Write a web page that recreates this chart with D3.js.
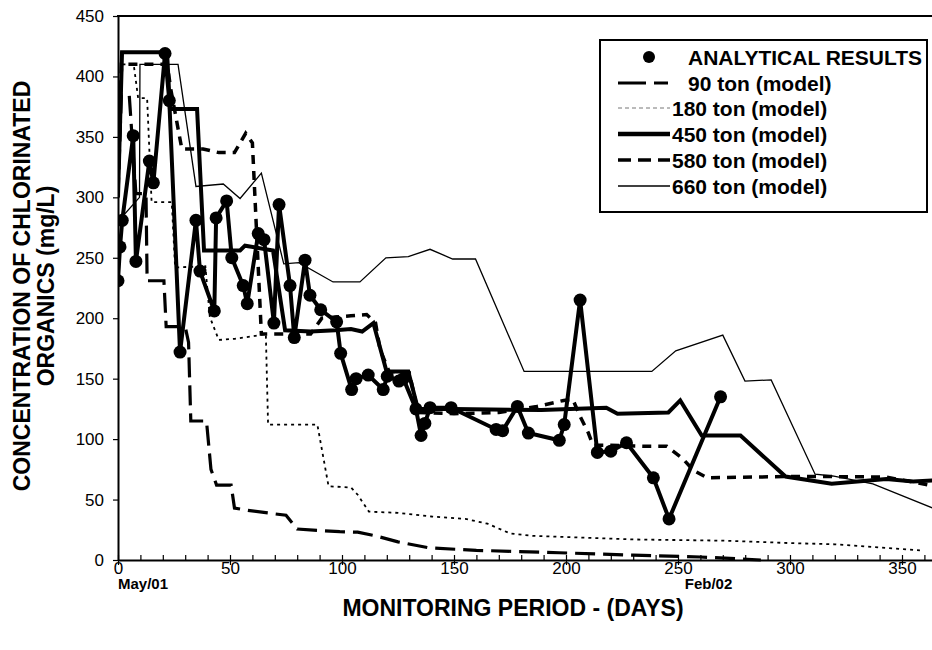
<!DOCTYPE html>
<html>
<head>
<meta charset="utf-8">
<script src="https://cdn.jsdelivr.net/npm/d3@7"></script>
<style>
  body { margin: 0; background: #fff; }
  text { font-family: "Liberation Sans", Arial, sans-serif; fill: #000; }
</style>
</head>
<body>
<script>
// data: [day, mg/L]
var analytical = [[0, 231], [0.9, 259], [1.9, 281], [6.8, 351], [8, 247], [14, 330], [15.8, 312],
  [21, 419], [22.9, 380], [27.7, 172], [34.8, 281], [36.6, 239], [43, 206], [43.8, 283],
  [48.5, 297], [50.8, 250], [55.9, 227], [57.7, 212], [62.6, 270], [65.2, 265], [69.6, 196],
  [71.9, 294], [76.8, 227], [78.7, 184], [83.5, 248], [85.7, 219], [90.5, 207], [97.6, 197],
  [99.4, 171], [104.3, 141], [106.3, 150], [111.7, 153], [118.4, 141], [120.2, 152],
  [125.4, 148], [127.4, 150], [133, 125], [135.3, 103], [137, 113], [139.3, 126], [148.7, 126],
  [168.8, 108], [171.7, 107], [178.3, 127], [183.2, 105], [197, 99], [199.2, 112], [206.3, 215],
  [214, 89], [220, 90], [227, 97], [239, 68], [246, 34], [269, 135]];

var ton90 = [[0, 300], [1.5, 385], [5, 385], [7, 330], [8, 303], [12.5, 303], [13, 231], [20.5, 231],
  [21.5, 193], [30, 193], [31.5, 180], [32.5, 115], [39.5, 115], [41.5, 75], [44, 62], [50.5, 62],
  [52, 43], [58, 41], [75, 37], [80, 25.6], [99, 23.4], [107, 23], [115, 20], [125, 15], [139, 10],
  [160, 8], [197, 6], [230, 4], [260, 2.5], [287, 0]];

var ton180 = [[0, 300], [2, 410], [7, 410], [9, 382], [13, 382], [15, 296], [24, 296], [25.5, 242],
  [39, 243], [41, 201], [45, 182], [52, 183], [60, 185], [66, 187], [67, 112], [89, 112], [94, 61],
  [104, 60], [107, 54], [112, 40], [125, 39], [140, 36], [155, 34], [165, 30], [175, 22], [185, 20],
  [230, 17], [270, 16], [300, 14], [320, 13], [358, 8]];

var ton450 = [[0, 300], [1.8, 420], [21.9, 420], [23.2, 373], [35.3, 373], [38.4, 256], [54.5, 256],
  [56.7, 260], [69.2, 256], [74.6, 190], [86, 189], [97, 190], [104, 191], [109, 189], [114, 196],
  [119.9, 156], [129.6, 156], [133.9, 125], [150, 125], [189, 124], [218, 126], [223, 121],
  [245.7, 122], [251, 132], [260.6, 103], [277.9, 103], [298, 69], [318.6, 63], [343, 67],
  [355, 65], [365, 66]];

var ton580 = [[0, 310], [1.5, 410], [22, 410], [23.5, 390], [28.5, 340], [38, 340], [45, 337],
  [52, 337], [57, 353], [60, 345], [64, 187], [86, 187], [91, 200], [104, 202], [111, 203],
  [115, 196], [117, 174], [121, 156], [130, 155], [134, 122], [150, 121], [170, 122], [187, 127],
  [199, 132], [203, 133], [206, 120], [210, 105], [212, 95], [218, 95], [235, 94], [245, 94],
  [252, 84], [257, 74], [263, 68], [298, 69], [320, 69], [343, 68.6], [362, 62], [365, 61]];

var ton660 = [[0, 280], [9.6, 300], [9.8, 410], [26.8, 410], [34.8, 309], [47, 311], [54.5, 299],
  [64, 320], [74, 245], [80.8, 246], [96, 230], [108, 230], [119.6, 250], [129.6, 251],
  [139.3, 257], [149.4, 249], [159.6, 249], [181.3, 156], [238.3, 156], [249, 173], [270, 186],
  [279.9, 148], [291.6, 149], [311.2, 71], [319, 69.5], [337, 63], [365, 42]];

var xTicks = [0, 50, 100, 150, 200, 250, 300, 350];
var yTicks = [0, 50, 100, 150, 200, 250, 300, 350, 400, 450];
var legendLabels = ['ANALYTICAL RESULTS', '90 ton (model)', '180 ton (model)', '450 ton (model)',
  '580 ton (model)', '660 ton (model)'];
var dateLabels = [['May/01', 0], ['Feb/02', 253]];

addEventListener('load', function() {

  var svg = d3.select('body')
    .append('svg')
    .attr('width', 932)
    .attr('height', 650);

  var x = d3.scaleLinear().domain([0, 365]).range([118, 935.6]);
  var y = d3.scaleLinear().domain([0, 450]).range([560, 16]);

  svg.append('clipPath')
    .attr('id', 'plot')
    .append('rect')
    .attr('x', 118)
    .attr('y', 10)
    .attr('width', 814)
    .attr('height', 552);

  // model lines, each with its own stroke
  var models = [
    { data: ton90, width: 3.2, dash: '20,8' },
    { data: ton180, width: 1.8, dash: '3,4' },
    { data: ton660, width: 1.3, dash: null },
    { data: ton580, width: 3.5, dash: '9,7' },
    { data: ton450, width: 4, dash: null }
  ];

  var line = d3.line()
    .x(function(d) { return x(d[0]); })
    .y(function(d) { return y(d[1]); });

  var g = svg.append('g').attr('clip-path', 'url(#plot)');

  models.forEach(function(m) {
    g.append('path')
      .attr('d', line(m.data))
      .attr('fill', 'none')
      .attr('stroke', '#000')
      .attr('stroke-width', m.width)
      .attr('stroke-dasharray', m.dash)
      .attr('stroke-linejoin', 'miter');
  });

  g.append('path')
    .attr('d', line(analytical))
    .attr('fill', 'none')
    .attr('stroke', '#000')
    .attr('stroke-width', 4);

  g.selectAll('circle')
    .data(analytical)
    .enter()
    .append('circle')
    .attr('cx', function(d) { return x(d[0]); })
    .attr('cy', function(d) { return y(d[1]); })
    .attr('r', 6.5)
    .attr('fill', '#000');

  // axes
  var xMinor = svg.append('g')
    .attr('transform', 'translate(0,560)')
    .call(d3.axisBottom(x).tickValues(d3.range(0, 370, 10)).tickSize(-5).tickSizeOuter(0).tickFormat(''));
  xMinor.select('.domain').remove();

  var xAxis = svg.append('g')
    .attr('transform', 'translate(0,560)')
    .call(d3.axisBottom(x).tickValues(xTicks).tickSize(5).tickSizeOuter(0));
  xAxis.selectAll('text').attr('y', 2).attr('dy', '0.71em');

  var yAxis = svg.append('g')
    .attr('transform', 'translate(118,0)')
    .call(d3.axisLeft(y).tickValues(yTicks).tickSize(5).tickSizeOuter(0).tickPadding(9));

  svg.selectAll('.tick line').attr('stroke', '#000').attr('stroke-width', 1.2);
  svg.selectAll('.domain').attr('stroke', '#000').attr('stroke-width', 2);
  svg.selectAll('.tick text')
    .attr('font-size', 17)
    .attr('font-family', '"Liberation Sans", Arial, sans-serif')
    .attr('fill', '#000');

  svg.append('line')
    .attr('x1', 117)
    .attr('x2', 932)
    .attr('y1', 16)
    .attr('y2', 16)
    .attr('stroke', '#000')
    .attr('stroke-width', 2);

  // date labels under the axis
  svg.selectAll('.date')
    .data(dateLabels)
    .enter()
    .append('text')
    .attr('class', 'date')
    .attr('x', function(d) { return x(d[1]); })
    .attr('y', 589)
    .attr('font-size', 15)
    .attr('font-weight', 'bold')
    .text(function(d) { return d[0]; });

  svg.append('text')
    .attr('x', 513)
    .attr('y', 616)
    .attr('text-anchor', 'middle')
    .attr('font-size', 23)
    .attr('font-weight', 'bold')
    .text('MONITORING PERIOD - (DAYS)');

  svg.append('text')
    .attr('transform', 'translate(30,286) rotate(-90)')
    .attr('text-anchor', 'middle')
    .attr('font-size', 23)
    .attr('font-weight', 'bold')
    .text('CONCENTRATION OF CHLORINATED');

  svg.append('text')
    .attr('transform', 'translate(54,286) rotate(-90)')
    .attr('text-anchor', 'middle')
    .attr('font-size', 23)
    .attr('font-weight', 'bold')
    .text('ORGANICS (mg/L)');

  // legend
  var legend = svg.append('g');
  legend.append('rect')
    .attr('x', 600)
    .attr('y', 40)
    .attr('width', 327)
    .attr('height', 172)
    .attr('fill', '#fff')
    .attr('stroke', '#000')
    .attr('stroke-width', 2);

  var rows = [57, 83, 108, 134, 160, 186];
  var keys = [
    null,
    { width: 3.2, dash: '28,8,14' },
    { width: 1, dash: '4,3', color: '#777' },
    { width: 4.5, dash: null },
    { width: 3.5, dash: '13,7' },
    { width: 1.3, dash: null }
  ];

  legendLabels.forEach(function(label, i) {
    if (i === 0) {
      legend.append('circle')
        .attr('cx', 649)
        .attr('cy', rows[i])
        .attr('r', 6)
        .attr('fill', '#000');
    } else {
      legend.append('line')
        .attr('x1', 618)
        .attr('x2', 670)
        .attr('y1', rows[i])
        .attr('y2', rows[i])
        .attr('stroke', keys[i].color || '#000')
        .attr('stroke-width', keys[i].width)
        .attr('stroke-dasharray', keys[i].dash);
    }
    legend.append('text')
      .attr('x', i < 2 ? 688 : 672)
      .attr('y', rows[i] + 7.5)
      .attr('font-size', 21)
      .attr('font-weight', 'bold')
      .text(label);
  });

});
</script>
</body>
</html>
